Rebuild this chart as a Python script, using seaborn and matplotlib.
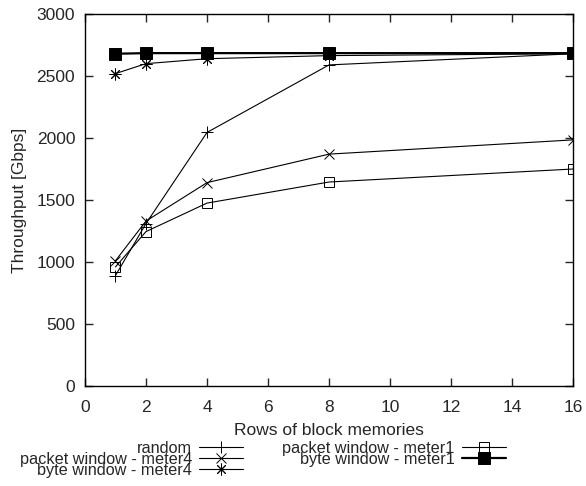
import numpy as np
import pandas as pd
import matplotlib
matplotlib.use("Agg")
import matplotlib.pyplot as plt
import seaborn as sns

# throughput vs rows of block memories
rows = [1, 2, 4, 8, 16]
random_tp = [890, 1310, 2045, 2590, 2680]
pkt_meter4 = [1010, 1330, 1640, 1870, 1985]
byte_meter4 = [2520, 2600, 2640, 2665, 2680]
pkt_meter1 = [960, 1245, 1475, 1645, 1750]
byte_meter1 = [2680, 2685, 2685, 2685, 2685]

labels = ["random", "packet window - meter4", "byte window - meter4",
          "packet window - meter1", "byte window - meter1"]
series = [random_tp, pkt_meter4, byte_meter4, pkt_meter1, byte_meter1]

df = pd.DataFrame({
    "rows": rows * len(series),
    "tp": np.concatenate(series),
    "label": np.repeat(labels, len(rows)),
})

sns.set_style("ticks")
plt.rcParams["font.family"] = ["Liberation Sans", "DejaVu Sans"]
plt.rcParams["font.size"] = 12.5

fig = plt.figure(figsize=(5.86, 4.86), dpi=100)
ax = fig.add_axes([0.145, 0.206, 0.833, 0.765])

styles = {
    "random": dict(marker="+", ms=8, mfc="none", lw=0.8),
    "packet window - meter4": dict(marker="x", ms=7, mfc="none", lw=0.8),
    "byte window - meter4": dict(marker=(8, 2, 0), ms=8.5, mfc="none", lw=0.8),
    "packet window - meter1": dict(marker="s", ms=7, mfc="none", lw=0.8),
    "byte window - meter1": dict(marker="s", ms=8.5, mfc="black", lw=1.6),
}

for lab in labels:
    st = styles[lab]
    sns.lineplot(data=df[df.label == lab], x="rows", y="tp", ax=ax, color="black",
                 marker=st["marker"], markersize=st["ms"], markerfacecolor=st["mfc"],
                 markeredgecolor="black", markeredgewidth=0.7, linewidth=st["lw"], label=lab)

ax.set_xlim(0, 16)
ax.set_ylim(0, 3000)
ax.set_xticks(range(0, 17, 2))
ax.set_yticks(range(0, 3001, 500))
ax.tick_params(direction="in", top=True, right=True, length=6, width=1, labelsize=12.5)
ax.tick_params(axis="x", pad=10)
ax.tick_params(axis="y", pad=7)
for s in ax.spines.values():
    s.set_linewidth(1)
    s.set_color("black")
ax.set_xlabel("Rows of block memories", fontsize=12.5, labelpad=6)
ax.set_ylabel("Throughput [Gbps]", fontsize=12.5, labelpad=7)

ax.legend(loc="upper center", bbox_to_anchor=(0.364, -0.126), ncol=2, frameon=False,
          markerfirst=False, fontsize=11.7, handlelength=2.7, labelspacing=-0.24,
          columnspacing=2.4, handletextpad=0.45, borderpad=0)

fig.savefig("out.png", dpi=100)
